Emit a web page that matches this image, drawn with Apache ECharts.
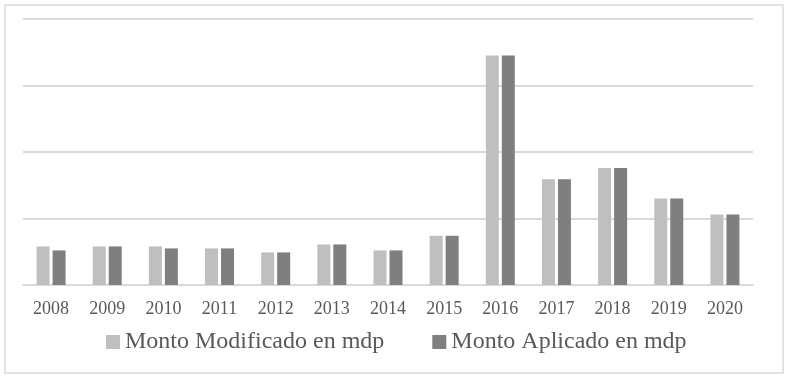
<!DOCTYPE html>
<html>
<head>
<meta charset="utf-8">
<script src="https://cdn.jsdelivr.net/npm/echarts@6/dist/echarts.min.js"></script>
<style>
  html, body { margin: 0; padding: 0; background: #fff; }
  #chart { width: 788px; height: 379px; }
</style>
</head>
<body>
<div id="chart"></div>
<script>
var years = ["2008", "2009", "2010", "2011", "2012", "2013", "2014", "2015", "2016", "2017", "2018", "2019", "2020"];
var montoModificado = [0.58, 0.58, 0.58, 0.55, 0.49, 0.61, 0.52, 0.74, 3.45, 1.59, 1.76, 1.30, 1.06];
var montoAplicado = [0.52, 0.58, 0.55, 0.55, 0.49, 0.61, 0.52, 0.74, 3.45, 1.59, 1.76, 1.30, 1.06];

var chart = echarts.init(document.getElementById("chart"));
var serif = "'Liberation Serif', 'DejaVu Serif', serif";

var option = {
  animation: false,
  graphic: [
    {
      type: "rect",
      shape: { x: 5, y: 5, width: 778, height: 368 },
      style: { fill: "none", stroke: "#e3e3e3", lineWidth: 2 },
      silent: true
    }
  ],
  grid: { left: 23, right: 35, top: 19, bottom: 94 },
  legend: {
    top: 325,
    left: 101,
    itemWidth: 14,
    itemHeight: 14,
    itemGap: 48,
    icon: "rect",
    textStyle: { fontFamily: serif, fontSize: 24, color: "#595959" },
    data: ["Monto Modificado en mdp", "Monto Aplicado en mdp"]
  },
  xAxis: {
    type: "category",
    data: years,
    axisTick: { show: false },
    axisLine: { lineStyle: { color: "#d9d9d9", width: 2 } },
    axisLabel: { fontFamily: serif, fontSize: 18, color: "#595959", margin: 15 }
  },
  yAxis: {
    type: "value",
    min: 0,
    max: 4,
    interval: 1,
    axisLabel: { show: false },
    axisLine: { show: false },
    axisTick: { show: false },
    splitLine: { lineStyle: { color: "#d9d9d9", width: 2 } }
  },
  series: [
    {
      name: "Monto Modificado en mdp",
      type: "bar",
      data: montoModificado,
      barWidth: 13,
      barGap: "23%",
      itemStyle: { color: "#bfbfbf" }
    },
    {
      name: "Monto Aplicado en mdp",
      type: "bar",
      data: montoAplicado,
      barWidth: 13,
      itemStyle: { color: "#7f7f7f" }
    }
  ]
};
chart.setOption(option);
window.addEventListener("resize", function() {
  chart.resize();
});
</script>
</body>
</html>
